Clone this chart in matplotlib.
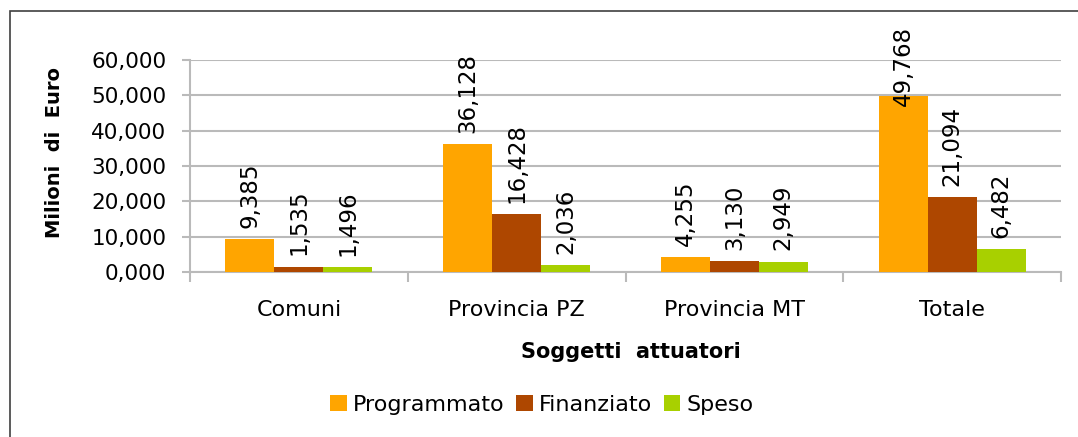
import matplotlib
matplotlib.use("Agg")
import matplotlib.pyplot as plt
from matplotlib.patches import Rectangle
import numpy as np

categories = ["Comuni", "Provincia PZ", "Provincia MT", "Totale"]
series_names = ["Programmato", "Finanziato", "Speso"]
programmato = [9.385, 36.128, 4.255, 49.768]
finanziato = [1.535, 16.428, 3.130, 21.094]
speso = [1.496, 2.036, 2.949, 6.482]
colors = ["#FFA500", "#AE4700", "#A8D000"]
yticks = [0, 10, 20, 30, 40, 50, 60]

def fmt(v):
    return f"{v:,.3f}".replace(".", "#").replace(",", ".").replace("#", ",")

W, H = 1078, 437
fig = plt.figure(figsize=(W / 100, H / 100), dpi=100)
plt.rcParams['font.family'] = ['DejaVu Sans']

ax = fig.add_axes([190 / W, 1 - 272 / H, (1061 - 190) / W, (272 - 60) / H])
ax.set_xlim(-0.5, 3.5)
ax.set_ylim(0, 60)

bw = 0.225
x = np.arange(len(categories))
data = [programmato, finanziato, speso]
for k, (vals, c, name) in enumerate(zip(data, colors, series_names)):
    pos = x + (k - 1) * bw
    ax.bar(pos, vals, width=bw, color=c, label=name, zorder=3)
    for xp, v in zip(pos, vals):
        if v > 45:
            ax.annotate(fmt(v), xy=(xp, 1.16), xycoords=('data', 'axes fraction'),
                        ha='center', va='top', rotation=90, fontsize=16.5, zorder=5)
        else:
            ax.annotate(fmt(v), xy=(xp, v), xytext=(0, 8), textcoords='offset points',
                        ha='center', va='bottom', rotation=90, fontsize=16.5, zorder=5)

gc = "#bababa"
ax.set_yticks(yticks)
ax.set_yticklabels([fmt(t) for t in yticks], fontsize=15.5)
ax.yaxis.grid(True, color=gc, linewidth=1.5, zorder=0)
ax.tick_params(axis='y', length=6, color=gc, width=1.5, pad=11)

ax.set_xticks(x)
ax.set_xticklabels(categories, fontsize=16)
ax.set_xticks(np.arange(-0.5, 4.0, 1.0), minor=True)
ax.tick_params(axis='x', which='major', length=0, pad=20)
ax.tick_params(axis='x', which='minor', length=7, color=gc, width=1.5)

for s in ['top', 'right']:
    ax.spines[s].set_visible(False)
for s in ['left', 'bottom']:
    ax.spines[s].set_color(gc)
    ax.spines[s].set_linewidth(1.5)

fig.text(631 / W, 1 - 352 / H, "Soggetti  attuatori", ha='center', va='center',
         fontsize=15, fontweight='bold')
fig.text(55 / W, 1 - 153 / H, "Milioni  di  Euro", ha='center', va='center',
         rotation=90, fontsize=14, fontweight='bold')

handles, labels = ax.get_legend_handles_labels()
fig.legend(handles, labels, loc='center', bbox_to_anchor=(542 / W, 1 - 405 / H),
           ncol=3, frameon=False, fontsize=16, handlelength=0.75, handleheight=0.75,
           handletextpad=0.3, columnspacing=0.5, borderpad=0)

fig.patches.append(Rectangle((10 / W, -0.1), 1.2, 1.1 - 11 / H, transform=fig.transFigure,
                             fill=False, edgecolor="#404040", linewidth=1.2))

fig.savefig("out.png", dpi=100, facecolor='white')
